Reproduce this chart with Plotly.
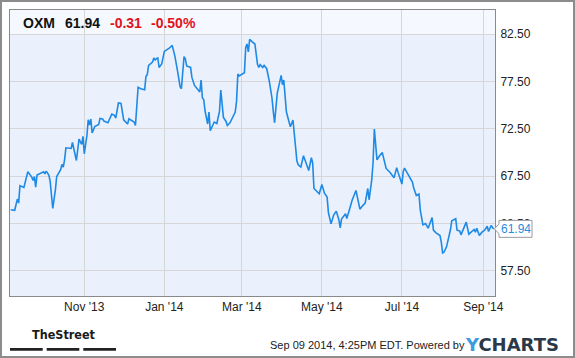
import plotly.graph_objects as go

# ---------------- data ----------------
ticker = "OXM"
last_price = "61.94"
change_abs = "-0.31"
change_pct = "-0.50%"
timestamp = "Sep 09 2014, 4:25PM EDT. Powered by"

dates = [
    "2013-09-06", "2013-09-09", "2013-09-11", "2013-09-12", "2013-09-13", "2013-09-16",
    "2013-09-19", "2013-09-22", "2013-09-23", "2013-09-24", "2013-09-25", "2013-09-26",
    "2013-10-01", "2013-10-02", "2013-10-03", "2013-10-05", "2013-10-06", "2013-10-08",
    "2013-10-10", "2013-10-11", "2013-10-14", "2013-10-15", "2013-10-16", "2013-10-17",
    "2013-10-18", "2013-10-22", "2013-10-23", "2013-10-26", "2013-10-28", "2013-10-30",
    "2013-10-31", "2013-11-01", "2013-11-03", "2013-11-04", "2013-11-05", "2013-11-06",
    "2013-11-07", "2013-11-09", "2013-11-12", "2013-11-13", "2013-11-15", "2013-11-16",
    "2013-11-19", "2013-11-22", "2013-11-24", "2013-11-25", "2013-11-27", "2013-11-29",
    "2013-12-01", "2013-12-03", "2013-12-04", "2013-12-05", "2013-12-07", "2013-12-09",
    "2013-12-10", "2013-12-12", "2013-12-14", "2013-12-17", "2013-12-18", "2013-12-19",
    "2013-12-20", "2013-12-23", "2013-12-24", "2013-12-25", "2013-12-26", "2013-12-27",
    "2013-12-28", "2013-12-30", "2014-01-01", "2014-01-03", "2014-01-05", "2014-01-07",
    "2014-01-09", "2014-01-11", "2014-01-13", "2014-01-14", "2014-01-16", "2014-01-17",
    "2014-01-18", "2014-01-21", "2014-01-22", "2014-01-24", "2014-01-27", "2014-01-28",
    "2014-01-29", "2014-01-30", "2014-01-31", "2014-02-01", "2014-02-03", "2014-02-04",
    "2014-02-05", "2014-02-08", "2014-02-10", "2014-02-12", "2014-02-13", "2014-02-15",
    "2014-02-17", "2014-02-18", "2014-02-20", "2014-02-22", "2014-02-24", "2014-02-25",
    "2014-02-26", "2014-02-27", "2014-03-01", "2014-03-03", "2014-03-04", "2014-03-05",
    "2014-03-06", "2014-03-07", "2014-03-09", "2014-03-11", "2014-03-13", "2014-03-14",
    "2014-03-15", "2014-03-17", "2014-03-18", "2014-03-20", "2014-03-22", "2014-03-24",
    "2014-03-25", "2014-03-26", "2014-03-28", "2014-03-31", "2014-04-01", "2014-04-02",
    "2014-04-04", "2014-04-06", "2014-04-07", "2014-04-09", "2014-04-10", "2014-04-12",
    "2014-04-13", "2014-04-15", "2014-04-17", "2014-04-19", "2014-04-21", "2014-04-23",
    "2014-04-24", "2014-04-25", "2014-04-27", "2014-04-29", "2014-05-01", "2014-05-03",
    "2014-05-05", "2014-05-06", "2014-05-08", "2014-05-10", "2014-05-12", "2014-05-14",
    "2014-05-15", "2014-05-16", "2014-05-19", "2014-05-20", "2014-05-22", "2014-05-24",
    "2014-05-27", "2014-05-30", "2014-06-01", "2014-06-03", "2014-06-05", "2014-06-06",
    "2014-06-08", "2014-06-09", "2014-06-10", "2014-06-12", "2014-06-14", "2014-06-16",
    "2014-06-19", "2014-06-22", "2014-06-25", "2014-06-27", "2014-06-28", "2014-07-01",
    "2014-07-02", "2014-07-03", "2014-07-05", "2014-07-07", "2014-07-09", "2014-07-10",
    "2014-07-12", "2014-07-14", "2014-07-15", "2014-07-17", "2014-07-19", "2014-07-21",
    "2014-07-24", "2014-07-25", "2014-07-27", "2014-07-30", "2014-07-31", "2014-08-01",
    "2014-08-02", "2014-08-04", "2014-08-06", "2014-08-07", "2014-08-08", "2014-08-11",
    "2014-08-12", "2014-08-14", "2014-08-15", "2014-08-17", "2014-08-19", "2014-08-21",
    "2014-08-23", "2014-08-25", "2014-08-26", "2014-08-27", "2014-08-29", "2014-08-31",
    "2014-09-02", "2014-09-04", "2014-09-05", "2014-09-07", "2014-09-08", "2014-09-09",
]

prices = [
    63.95, 63.90, 65.08, 64.66, 66.49, 66.31,
    67.97, 67.40, 67.05, 67.47, 66.35, 67.62,
    67.97, 67.75, 68.04, 67.62, 66.98, 64.09,
    66.06, 67.47, 68.18, 68.74, 68.46, 69.23,
    70.50, 70.43, 71.06, 69.16, 71.42, 70.85,
    71.70, 69.87, 71.77, 73.46, 72.90, 73.54,
    72.06, 72.75, 72.97, 73.60, 73.54, 73.32,
    73.14, 74.06, 73.92, 73.64, 75.23, 75.19,
    73.46, 73.22, 73.01, 73.57, 73.43, 73.22,
    72.86, 76.88, 76.74, 76.63, 78.04, 78.22,
    79.20, 79.56, 79.98, 79.77, 79.91, 79.98,
    78.99, 79.35, 80.68, 80.83, 81.04, 81.32,
    80.20, 78.64, 76.95, 76.74, 80.12, 79.91,
    79.14, 78.99, 77.93, 77.09, 76.63, 76.39,
    77.66, 75.76, 75.60, 74.41, 73.01, 74.28,
    72.30, 73.22, 73.07, 74.34, 76.60, 73.71,
    73.28, 72.86, 73.14, 73.71, 74.28, 75.40,
    78.29, 78.08, 78.29, 78.43, 81.10, 81.46,
    80.62, 81.95, 81.68, 81.46, 79.28, 78.99,
    79.28, 78.99, 79.20, 78.85, 77.51, 75.76,
    74.34, 73.14, 76.24, 78.15, 77.16, 77.66,
    74.28, 73.36, 72.72, 73.43, 71.88, 69.10,
    68.70, 68.46, 69.66, 68.95, 68.10, 69.45,
    68.90, 66.20, 65.93, 65.64, 66.63, 65.71,
    65.29, 63.66, 62.47, 63.39, 63.81, 62.89,
    62.05, 62.97, 63.53, 63.03, 63.95, 64.93,
    65.99, 64.02, 64.37, 64.66, 66.20, 65.01,
    67.12, 68.89, 72.48, 69.23, 69.66, 70.00,
    68.32, 67.89, 67.33, 68.40, 67.93, 66.67,
    68.00, 68.36, 67.86, 67.36, 66.88, 66.24,
    65.46, 65.61, 63.92, 62.36, 62.50, 62.01,
    63.13, 61.80, 61.52, 61.23, 60.53, 59.40,
    59.47, 60.04, 61.23, 61.87, 62.79, 63.00,
    61.80, 61.73, 61.31, 61.94, 62.65, 61.38,
    61.66, 61.87, 61.59, 62.01, 61.23, 61.59,
    61.80, 62.22, 61.66, 62.29, 62.08, 61.94,
]

y_ticks = [57.5, 62.5, 67.5, 72.5, 77.5, 82.5]
x_tick_dates = ["2013-11-01", "2014-01-01", "2014-03-01", "2014-05-01", "2014-07-01", "2014-09-01"]

# ---------------- layout helpers ----------------
W, H = 575, 358
PL, PT, PR, PB = 10, 10, 495, 296          # plot area in pixels
Y0, Y1 = 54.85, 85.05
X_RANGE = ["2013-09-05 10:00", "2014-09-09 22:00"]


def fx(px):
    return (px - PL) / (PR - PL)


def fy(py):
    return (PB - py) / (PB - PT)


def val_to_py(v):
    return PT + (Y1 - v) / (Y1 - Y0) * (PB - PT)


FONT = "Liberation Sans, Arial, sans-serif"
LINE_BLUE = "#1e8ae6"

fig = go.Figure()
fig.add_trace(go.Scatter(
    x=dates, y=prices, mode="lines",
    line=dict(color=LINE_BLUE, width=1.6),
    hoverinfo="skip", showlegend=False,
))

shapes = []
# header band above the top grid line
shapes.append(dict(type="rect", xref="paper", yref="y", x0=0, x1=1, y0=y_ticks[-1], y1=Y1,
                   fillcolor="#f5f8fe", line=dict(width=0), layer="below"))
# outer frame
shapes.append(dict(type="rect", xref="paper", yref="paper",
                   x0=fx(1), x1=fx(574), y0=fy(1), y1=fy(357),
                   line=dict(color="#8c8c8c", width=2), fillcolor="rgba(0,0,0,0)", layer="above"))
# last-value callout
cy = val_to_py(prices[-1])
pts = [(494.5, cy), (499, cy - 5), (499, cy - 8.5), (532, cy - 8.5),
       (532, cy + 8.5), (499, cy + 8.5), (499, cy + 5)]
path = "M " + " L ".join(f"{fx(a):.5f},{fy(b):.5f}" for a, b in pts) + " Z"
shapes.append(dict(type="path", xref="paper", yref="paper", path=path,
                   fillcolor="white", line=dict(color="#9a9a9a", width=1), layer="above"))
# TheStreet underline dashes
for a, b in [(10, 42.7), (46.7, 79.3), (83.3, 116)]:
    shapes.append(dict(type="rect", xref="paper", yref="paper",
                       x0=fx(a), x1=fx(b), y0=fy(348), y1=fy(350.8),
                       fillcolor="#222222", line=dict(width=0)))

annotations = []


def add_text(text, px, py, size, color, family=FONT, weight="normal", xanchor="left"):
    annotations.append(dict(text=text, xref="paper", yref="paper", x=fx(px), y=fy(py),
                            xanchor=xanchor, yanchor="middle", showarrow=False,
                            font=dict(family=family, size=size, color=color, weight=weight)))


add_text(ticker, 21, 23, 14, "#111111", weight="bold")
add_text(last_price, 63, 23, 14, "#111111", weight="bold")
add_text(change_abs, 108, 23, 14, "#e3121b", weight="bold")
add_text(change_pct, 149, 23, 14, "#e3121b", weight="bold")
add_text(last_price, 515.5, cy, 12, "#2a8de0", xanchor="center")
add_text("TheStreet", 63.5, 334.5, 12.5, "#1a1a1a",
         family="Liberation Sans Narrow, DejaVu Sans Condensed, sans-serif", weight="bold",
         xanchor="center")
add_text(timestamp, 268, 345, 11, "#222222")
add_text("<span style='color:#3d9be0'>Y</span>CHARTS", 463, 344.5, 18, "#2b3848",
         family="DejaVu Sans, sans-serif", weight="bold")

fig.update_layout(
    width=W, height=H,
    margin=dict(l=PL, r=W - PR, t=PT, b=H - PB, pad=0),
    paper_bgcolor="white", plot_bgcolor="#eaf1fc",
    shapes=shapes, annotations=annotations,
    font=dict(family=FONT, size=12, color="#222222"),
    showlegend=False,
)
fig.update_xaxes(
    type="date", range=X_RANGE, tickvals=x_tick_dates, tickformat="%b '%y",
    showgrid=True, gridcolor="#d6d6d6", gridwidth=1,
    showline=True, mirror=True, linecolor="#8a8a8a", linewidth=1,
    ticks="", tickfont=dict(size=12, color="#222222"), zeroline=False,
)
fig.update_yaxes(
    range=[Y0, Y1], side="right", tickvals=y_ticks, tickformat=".2f",
    showgrid=True, gridcolor="#d6d6d6", gridwidth=1,
    showline=True, mirror=True, linecolor="#8a8a8a", linewidth=1,
    ticks="", ticklabelstandoff=2, tickfont=dict(size=12, color="#222222"), zeroline=False,
)

fig.write_html("out.html")
